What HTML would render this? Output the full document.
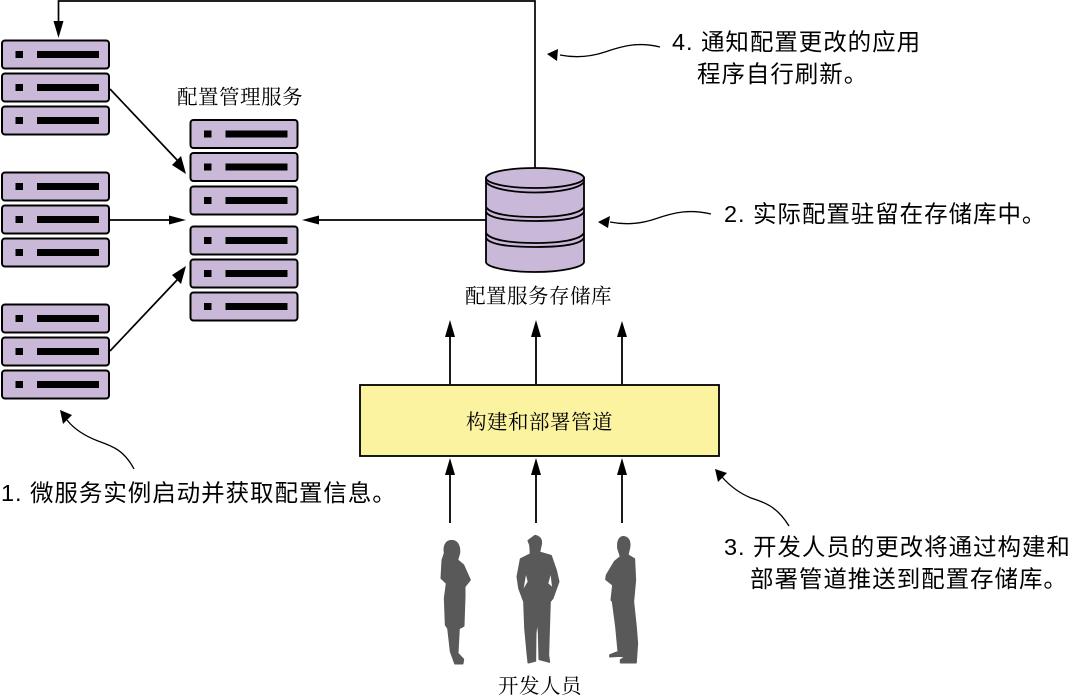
<!DOCTYPE html>
<html><head><meta charset="utf-8"><style>
html,body{margin:0;padding:0;background:#fff}
svg{display:block}
.a{font-family:"Liberation Sans","WenQuanYi Zen Hei","Noto Sans CJK SC",sans-serif;font-size:23.5px;letter-spacing:.95px;fill:#000}
.l{font-family:"Liberation Serif","Noto Serif CJK SC",serif;font-size:20.5px;letter-spacing:.5px;fill:#000}
</style></head><body>
<svg width="1070" height="699" viewBox="0 0 1070 699" xmlns="http://www.w3.org/2000/svg">
<defs>
<g id="s"><rect x="2" y="0.5" width="107" height="28" rx="3" fill="#cab8d9" stroke="#000" stroke-width="2"/><rect x="15.5" y="11" width="7.5" height="7" fill="#000"/><rect x="37" y="11" width="62" height="7" fill="#000"/></g>
</defs>
<use href="#s" y="40"/><use href="#s" y="73"/><use href="#s" y="106"/>
<use href="#s" y="172"/><use href="#s" y="205"/><use href="#s" y="238"/>
<use href="#s" y="304"/><use href="#s" y="337"/><use href="#s" y="370"/>
<use href="#s" x="188.5" y="119.500"/><use href="#s" x="188.5" y="152.500"/><use href="#s" x="188.5" y="186"/>
<use href="#s" x="188.5" y="226"/><use href="#s" x="188.5" y="259"/><use href="#s" x="188.5" y="292"/>

<g fill="none" stroke="#000" stroke-width="1.7">
<path d="M535 168V1H58.500V25"/>
<path d="M110 89L178 161"/><path d="M110 220H172"/><path d="M110 351L178 279"/>
<path d="M486 220H315"/>
<path d="M450 384V335M536 384V335M622 384V335" stroke-width="1.8"/>
<path d="M450 523V475M536 523V475M622 523V475" stroke-width="1.8"/>
<path d="M134 469C124 450 112 446 98 441C85 436 74 429 67 420" stroke-width="1.300"/>
<path d="M789 526C778 508 767 503 751 498C739 493 730 486 722 477" stroke-width="1.300"/>
<path d="M660 47C640 42 625 45 605 52C590 57 575 58 560 55" stroke-width="1.300"/>
<path d="M711 214C690 209 675 212 655 219C640 224 625 225 610 222" stroke-width="1.300"/>
</g>
<g fill="#000">
<path d="M58.500 38L53.500 21H63.500Z"/>
<path d="M186 174L172 165L181 156Z"/>
<path d="M186 220L169 215.500V224.500Z"/>
<path d="M186 266L181 284L172 275Z"/>
<path d="M302 220L319 215.500V224.500Z"/>
<path d="M450 320L445 337H455Z"/><path d="M536 320L531 337H541Z"/><path d="M622 321L617 337H627Z"/>
<path d="M450 458L445 475H455Z"/><path d="M536 458L531 475H541Z"/><path d="M622 458L617 475H627Z"/>
<path d="M60 410L72 415L63 424Z"/>
<path d="M715 469L727 473L718 482Z"/>
<path d="M547 54L558 49L557 61Z"/>
<path d="M598 222L610 216L608 228Z"/>
</g>

<g stroke="#000" stroke-width="1.8">
<path d="M486 178V262C486 267 508 272 535 272S584 267 584 262V178Z" fill="#cab8d9"/>
<ellipse cx="535" cy="178" rx="49" ry="10" fill="#cab8d9"/>
<path d="M486 182C490 188 510 192.500 535 192.500S580 188 584 182" fill="none"/>
<path d="M486 207C490 214 510 217 535 217S580 214 584 207M486 212C490 219 510 221 535 221S580 219 584 212" fill="none"/>
<path d="M486 233C490 240 510 243 535 243S580 240 584 233M486 238C490 245 510 247 535 247S580 245 584 238" fill="none"/>
</g>

<rect x="360" y="385" width="359" height="71" fill="#fbf3a0" stroke="#000" stroke-width="1.800"/>

<g fill="#595959" stroke="#595959" stroke-width="5" stroke-linejoin="round" transform="translate(420 520) scale(.3333)">
<path d="M95 62C113 62 120 80 118 100L112 120L130 135L150 180L134 200L134 230L131 318L117 325L113 400L130 418L128 431L105 431L92 395L84 325L77 315L74 235L80 190L64 175L67 120L74 100C70 75 80 62 95 62Z"/>
<path d="M345 47C360 50 366 60 363 75L358 97L393 107L408 150L416 185L398 235L390 245L387 340L385 405L388 426L358 418L356 340L352 295L347 340L346 423L325 428L322 400L315 325L312 245L297 205L292 170L302 117L332 102L330 75L325 62Z"/>
<path d="M610 50C626 52 632 65 628 85L623 105L643 117L646 180L640 245L648 320L652 370L648 428L602 428L602 420L617 410L600 408L570 410L570 405L595 395L588 320L578 245L574 240L579 195L558 178L560 165L584 125L602 110L594 85C592 62 598 52 610 50Z"/>
<path d="M318 165L311 205L323 185Z M392 165L396 200L385 190Z" fill="#fff" stroke="none"/>
</g>

<text class="l" x="177" y="104">配置管理服务</text>
<text class="l" x="465" y="303">配置服务存储库</text>
<text class="l" x="466" y="429">构建和部署管道</text>
<text class="l" x="498" y="693">开发人员</text>

<text class="a" x="1" y="501">1. 微服务实例启动并获取配置信息。</text>
<text class="a" x="672" y="50">4. 通知配置更改的应用</text>
<text class="a" x="697" y="82">程序自行刷新。</text>
<text class="a" x="724" y="222">2. 实际配置驻留在存储库中。</text>
<text class="a" x="724" y="555">3. 开发人员的更改将通过构建和</text>
<text class="a" x="750" y="587">部署管道推送到配置存储库。</text>
</svg>
</body></html>
